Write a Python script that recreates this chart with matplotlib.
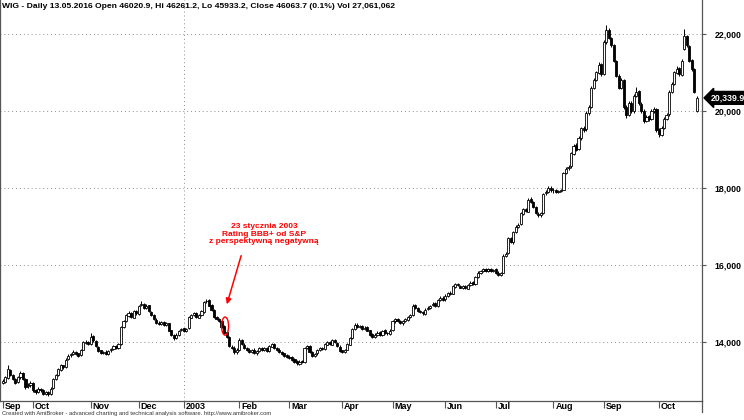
import numpy as np
import pandas as pd
import matplotlib
matplotlib.use('Agg')
import matplotlib.pyplot as plt
from matplotlib.patches import Ellipse
from matplotlib.lines import Line2D
from matplotlib.transforms import ScaledTranslation, blended_transform_factory

plt.rcParams['font.family'] = ['Liberation Sans', 'DejaVu Sans']

# sesje GPW (dni robocze bez swiat)
holidays = ['2002-11-01', '2002-11-11', '2002-12-24', '2002-12-25', '2002-12-26',
            '2002-12-31', '2003-01-01', '2003-04-18', '2003-04-21', '2003-05-01',
            '2003-06-19', '2003-08-15']
days = pd.bdate_range('2002-09-13', '2003-10-22')
days = days[~days.isin(pd.to_datetime(holidays))]

# WIG - notowania dzienne
opens = [
    12950, 12980, 13080, 13280, 13160, 13060, 12960, 13090, 13210, 13060, 12860, 12880,
    12940, 12760, 12710, 12790, 12760, 12660, 12710, 12660, 12810, 13060, 13160, 13290, 13400, 13360, 13560, 13660, 13690, 13760, 13710, 13660, 13810, 13990, 14010,
    13960, 14160, 14040, 13890, 13790, 13710, 13760, 13690, 13790, 13830, 13910, 13840, 13960, 14390, 14560, 14690, 14760, 14640, 14810,
    14740, 14960, 14990, 14890, 14960, 14790, 14710, 14590, 14510, 14470, 14530, 14440, 14490, 14310, 14190, 14110, 14190, 14310,
    14360, 14290, 14360, 14640, 14710, 14760, 14640, 14710, 14790, 15060, 15090, 14960, 14840, 14660, 14610, 14560, 14410, 14260, 14140, 13890, 13860, 13740,
    13810, 14060, 13940, 13860, 13810, 13740, 13810, 13710, 13770, 13860, 13790, 13860, 13770, 13890, 13960, 13840, 13810, 13740, 13710, 13660,
    13630, 13610, 13560, 13510, 13440, 13510, 13490, 13840, 13910, 13760, 13640, 13710, 13790, 13860, 13820, 13940, 14010, 13940, 14060, 13990, 13890,
    13790, 13740, 13810, 13940, 14110, 14340, 14460, 14390, 14430, 14340, 14390, 14310, 14210, 14140, 14190, 14260, 14190, 14310, 14240, 14220,
    14310, 14540, 14610, 14560, 14490, 14560, 14590, 14660, 14710, 14960, 14890, 14810, 14790, 14740, 14860, 14890, 14960, 15010, 14940, 15090, 15160,
    15110, 15190, 15290, 15260, 15440, 15510, 15470, 15410, 15460, 15390, 15490, 15560, 15510, 15690, 15810, 15860, 15910, 15840, 15910, 15840,
    15890, 15810, 15740, 15810, 16240, 16310, 16710, 16590, 16860, 16990, 17060, 17340, 17460, 17390, 17710, 17640, 17510, 17340, 17290, 17360, 17860, 17890, 18010,
    17960, 17940, 17890, 17930, 17960, 18390, 18510, 18560, 18890, 19110, 19010, 19290, 19560, 19520, 19940, 20110, 20590, 20810, 20990, 21210,
    20960, 21790, 22110, 21890, 21710, 21290, 20910, 20590, 20810, 20110, 19890, 20210, 19990, 20390, 20510, 20190, 20010, 19740, 19860, 19790, 19990, 20060,
    19510, 19390, 19560, 19790, 19910, 20490, 20710, 20990, 21110, 20940, 21620, 21940, 21690, 21310, 21090, 20010,
]
highs = [
    13040, 13130, 13420, 13300, 13180, 13080, 13130, 13250, 13230, 13080, 12950, 13000,
    12960, 12790, 12830, 12810, 12780, 12730, 12730, 12830, 13080, 13190, 13330, 13440, 13420, 13580, 13690, 13730, 13790, 13780, 13730, 13830, 14040, 14060, 14040,
    14230, 14180, 14060, 13910, 13810, 13780, 13790, 13810, 13850, 13930, 13930, 13980, 14420, 14580, 14740, 14800, 14790, 14840, 14840,
    14980, 15060, 15020, 14990, 14980, 14820, 14730, 14620, 14540, 14560, 14560, 14530, 14510, 14330, 14220, 14230, 14330, 14380,
    14380, 14380, 14680, 14740, 14790, 14790, 14730, 14830, 15080, 15130, 15110, 14990, 14870, 14690, 14640, 14590, 14440, 14290, 14170, 13930, 13900, 13850,
    14100, 14090, 13980, 13890, 13840, 13830, 13840, 13810, 13880, 13890, 13880, 13890, 13930, 13990, 13990, 13870, 13840, 13770, 13730, 13690,
    13660, 13640, 13590, 13530, 13530, 13540, 13880, 13940, 13930, 13780, 13730, 13830, 13880, 13890, 13980, 14040, 14040, 14080, 14090, 14020, 13920,
    13810, 13830, 13980, 14130, 14380, 14490, 14490, 14450, 14460, 14410, 14410, 14330, 14230, 14230, 14280, 14290, 14330, 14340, 14270, 14340,
    14580, 14640, 14640, 14580, 14580, 14630, 14680, 14730, 15000, 15000, 14920, 14840, 14810, 14880, 14930, 14980, 15040, 15040, 15130, 15190, 15190,
    15240, 15310, 15320, 15480, 15540, 15540, 15490, 15480, 15480, 15510, 15590, 15580, 15730, 15840, 15880, 15940, 15930, 15930, 15940, 15910,
    15920, 15840, 15830, 16280, 16340, 16740, 16740, 16880, 17030, 17090, 17380, 17490, 17490, 17740, 17760, 17670, 17540, 17380, 17380, 17880, 17940, 18060, 18050,
    18000, 17980, 17950, 17980, 18430, 18540, 18600, 18940, 19150, 19160, 19340, 19590, 19600, 19990, 20150, 20640, 20860, 21050, 21270, 21250,
    21850, 22230, 22150, 21920, 21740, 21320, 20950, 20860, 20840, 20150, 20250, 20260, 20450, 20620, 20550, 20230, 20040, 19900, 19900, 20050, 20110, 20080,
    19560, 19600, 19840, 19950, 20540, 20740, 21050, 21160, 21150, 21340, 22120, 21960, 21720, 21340, 21120, 20400,
]
lows = [
    12920, 12950, 13060, 13120, 13020, 12920, 12940, 13060, 13030, 12780, 12820, 12850,
    12720, 12660, 12680, 12720, 12620, 12640, 12610, 12640, 12790, 13030, 13130, 13260, 13320, 13340, 13530, 13630, 13660, 13680, 13620, 13640, 13790, 13950, 13920,
    13940, 14020, 13880, 13760, 13690, 13690, 13680, 13670, 13760, 13810, 13820, 13820, 13940, 14370, 14530, 14660, 14630, 14620, 14720,
    14720, 14930, 14870, 14870, 14780, 14680, 14580, 14480, 14450, 14450, 14420, 14420, 14280, 14170, 14060, 14080, 14170, 14280,
    14260, 14260, 14340, 14620, 14690, 14620, 14620, 14690, 14770, 15020, 14930, 14820, 14620, 14570, 14520, 14370, 14210, 14110, 13870, 13820, 13700, 13700,
    13780, 13920, 13820, 13770, 13710, 13710, 13690, 13680, 13740, 13770, 13770, 13750, 13750, 13870, 13820, 13770, 13720, 13670, 13620, 13590,
    13570, 13520, 13470, 13420, 13420, 13450, 13470, 13820, 13730, 13620, 13620, 13680, 13770, 13800, 13800, 13920, 13920, 13920, 13970, 13870, 13740,
    13710, 13720, 13790, 13920, 14090, 14320, 14370, 14370, 14320, 14320, 14280, 14170, 14110, 14110, 14170, 14170, 14170, 14220, 14200, 14190,
    14290, 14510, 14520, 14470, 14460, 14530, 14560, 14630, 14690, 14870, 14780, 14750, 14720, 14710, 14830, 14860, 14930, 14920, 14910, 15060, 15070,
    15080, 15170, 15220, 15240, 15420, 15460, 15400, 15380, 15370, 15370, 15460, 15480, 15490, 15670, 15780, 15830, 15830, 15820, 15830, 15820,
    15770, 15720, 15710, 15790, 16210, 16280, 16570, 16560, 16830, 16960, 17030, 17310, 17370, 17370, 17620, 17480, 17320, 17240, 17260, 17340, 17830, 17870, 17900,
    17880, 17870, 17860, 17900, 17940, 18360, 18480, 18530, 18860, 18970, 18980, 19260, 19460, 19490, 19900, 20080, 20560, 20780, 20960, 20920,
    20930, 21750, 21870, 21660, 21260, 20870, 20560, 20560, 20060, 19830, 19860, 19960, 19960, 20360, 20150, 19960, 19700, 19710, 19740, 19760, 19960, 19450,
    19330, 19340, 19520, 19760, 19880, 20460, 20680, 20950, 20920, 20900, 21590, 21660, 21260, 21050, 20460, 19980,
]
closes = [
    13000, 13100, 13300, 13150, 13050, 12950, 13100, 13200, 13050, 12850, 12900, 12950,
    12750, 12700, 12800, 12750, 12650, 12700, 12650, 12800, 13050, 13150, 13300, 13400, 13350, 13550, 13650, 13700, 13750, 13700, 13650, 13800, 14000, 14000, 13950,
    14150, 14050, 13900, 13780, 13720, 13750, 13700, 13780, 13820, 13900, 13850, 13950, 14400, 14550, 14700, 14750, 14650, 14800, 14750,
    14950, 15000, 14900, 14950, 14800, 14700, 14600, 14500, 14480, 14520, 14450, 14500, 14300, 14200, 14100, 14200, 14300, 14350,
    14300, 14350, 14650, 14700, 14750, 14650, 14700, 14800, 15050, 15080, 14950, 14850, 14650, 14600, 14550, 14400, 14250, 14150, 13900, 13850, 13750, 13800,
    14050, 13950, 13850, 13800, 13750, 13800, 13720, 13780, 13850, 13800, 13850, 13780, 13900, 13950, 13850, 13800, 13750, 13700, 13650, 13620,
    13600, 13550, 13500, 13450, 13500, 13480, 13850, 13900, 13750, 13650, 13700, 13800, 13850, 13830, 13950, 14000, 13950, 14050, 14000, 13900, 13780,
    13750, 13800, 13950, 14100, 14350, 14450, 14400, 14420, 14350, 14380, 14300, 14200, 14150, 14200, 14250, 14200, 14300, 14250, 14230, 14300,
    14550, 14600, 14550, 14500, 14550, 14600, 14650, 14700, 14950, 14900, 14800, 14780, 14750, 14850, 14900, 14950, 15000, 14950, 15100, 15150, 15100,
    15200, 15280, 15250, 15450, 15500, 15480, 15420, 15450, 15400, 15480, 15550, 15500, 15700, 15800, 15850, 15900, 15850, 15900, 15850, 15880,
    15800, 15750, 15800, 16250, 16300, 16700, 16600, 16850, 17000, 17050, 17350, 17450, 17400, 17700, 17650, 17500, 17350, 17300, 17350, 17850, 17900, 18000, 17950,
    17950, 17900, 17920, 17950, 18400, 18500, 18550, 18900, 19100, 19000, 19300, 19550, 19500, 19950, 20100, 20600, 20800, 21000, 21200, 20950,
    21800, 22100, 21900, 21700, 21300, 20900, 20600, 20800, 20100, 19900, 20200, 20000, 20400, 20500, 20200, 20000, 19750, 19850, 19800, 20000, 20050, 19500,
    19400, 19550, 19800, 19900, 20500, 20700, 21000, 21100, 20950, 21300, 21950, 21700, 21300, 21100, 20500, 20339.9,
]

y_ticks = [14000, 16000, 18000, 20000, 22000]
month_names = ['Jan', 'Feb', 'Mar', 'Apr', 'May', 'Jun', 'Jul', 'Aug', 'Sep', 'Oct', 'Nov', 'Dec']

tytul = 'WIG - Daily 13.05.2016 Open 46020.9, Hi 46261.2, Lo 45933.2, Close 46063.7 (0.1%) Vol 27,061,062'
stopka = 'Created with AmiBroker - advanced charting and technical analysis software. http://www.amibroker.com'
opis = '23 stycznia 2003\nRating BBB+ od S&P\nz perspektywną negatywną'

o = np.array(opens, dtype=float)
h = np.array(highs, dtype=float)
l = np.array(lows, dtype=float)
c = np.array(closes, dtype=float)
x = np.arange(len(days))

fig = plt.figure(figsize=(7.44, 4.2), dpi=100)
ax = fig.add_axes([0, 19 / 420, 702 / 744, 401 / 420])

# siatka
for v in y_ticks:
    ax.axhline(v, color='#8c8c8c', linestyle=(0, (1, 3)), linewidth=0.7, zorder=0)

# swiece
up = c >= o
ax.vlines(x, l, h, color='black', linewidth=0.7, zorder=2)
ax.bar(x[up], (c - o)[up], bottom=o[up], width=0.85, facecolor='white',
       edgecolor='black', linewidth=0.6, zorder=3)
ax.bar(x[~up], (o - c)[~up], bottom=c[~up], width=0.85, facecolor='black',
       edgecolor='black', linewidth=0.6, zorder=3)

ax.set_xlim(-1.13, 278.1)
ax.set_ylim(12477, 22879)

# os X - poczatki miesiecy
ticks, labels = [0], [month_names[days[0].month - 1]]
for i in range(1, len(days)):
    if days[i].month != days[i - 1].month:
        ticks.append(i)
        labels.append(str(days[i].year) if days[i].month == 1 else month_names[days[i].month - 1])
        if days[i].month == 1:
            ax.axvline(i, color='#8c8c8c', linestyle=(0, (1, 3)), linewidth=0.7, zorder=0)
ax.set_xticks(ticks)
ax.set_xticklabels(labels, fontsize=6.5, fontweight='bold', ha='left')
ax.tick_params(axis='x', length=5, width=0.8, pad=-4, color='#555555')
for lab in ax.get_xticklabels():
    lab.set_transform(lab.get_transform() + ScaledTranslation(2 / 100, 0, fig.dpi_scale_trans))

# os Y po prawej
ax.yaxis.tick_right()
ax.set_yticks(y_ticks)
ax.set_yticklabels([f'{v:,}' for v in y_ticks], fontsize=6.3, fontweight='bold')
ax.tick_params(axis='y', length=3, width=0.8, pad=6, color='#555555')

ax.spines['top'].set_visible(False)
for s in ['left', 'bottom', 'right']:
    ax.spines[s].set_color('#555555')
    ax.spines[s].set_linewidth(0.9)
fig.add_artist(Line2D([702 / 744, 702 / 744], [8 / 420, 19 / 420], color='#555555', linewidth=0.9))

# ostatnia cena
tr = blended_transform_factory(ax.transAxes, ax.transData)
ax.text(1 + 9 / 702, c[-1], f'{c[-1]:,.1f}', transform=tr, ha='left', va='center',
        fontsize=6.3, fontweight='bold', color='white', clip_on=False,
        bbox=dict(boxstyle='larrow,pad=0.22', facecolor='black', edgecolor='black'))

# adnotacja
ax.text(103.9, 16800, opis, ha='center', va='center', color='red',
        fontsize=6, fontweight='bold', linespacing=1.1)
ax.annotate('', xy=(88.8, 14916), xytext=(95.1, 16316),
            arrowprops=dict(arrowstyle='-|>', color='red', lw=1.1, mutation_scale=8))
ax.add_patch(Ellipse((88.4, 14420), 2.8, 470, facecolor='none', edgecolor='red', linewidth=1.0, zorder=4))

fig.text(2 / 744, 1 - 6 / 420, tytul, fontsize=6.1, fontweight='bold', va='center', ha='left')
fig.text(2 / 744, 6 / 420, stopka, fontsize=4.2, color='#333333', va='center', ha='left')

plt.savefig('out.png', dpi=100)
